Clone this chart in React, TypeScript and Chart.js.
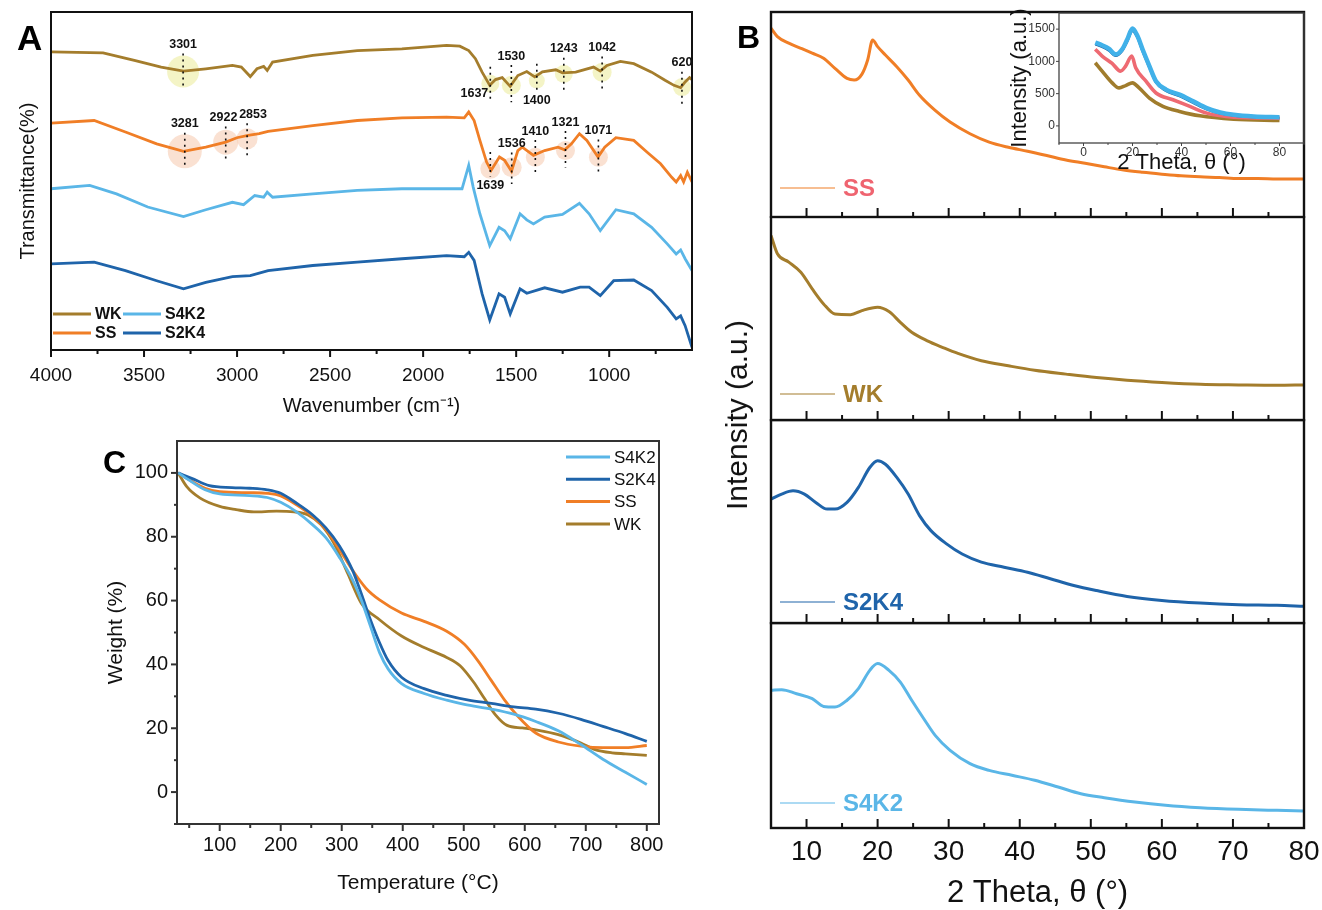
import React, { useEffect, useRef } from 'react';
import { Chart, registerables } from 'chart.js';

Chart.register(...registerables);

const FONT = "'Liberation Sans', Arial, Helvetica, sans-serif";
Chart.defaults.font.family = FONT;
Chart.defaults.color = '#111';

// ---------------- colours ----------------
const C_WK = '#A47D2C';
const C_SS = '#F07E26';
const C_S4K2 = '#5AB6E7';
const C_S2K4 = '#1F64AA';
const C_SS_LABEL = '#EF6470';
const C_SS_INSET = '#EE6A72';

// ---------------- Panel A : FTIR ----------------
const ftirTickValues = [4000, 3500, 3000, 2500, 2000, 1500, 1000];
const ftirMinorTicks = [3750, 3250, 2750, 2250, 1750, 1250, 750];

const wkWavenumber = [4000, 3720, 3552, 3408, 3288, 3168, 3025, 2977, 2929, 2893, 2857, 2838, 2809, 2593, 2354, 2114, 1874, 1803, 1755, 1719, 1683, 1642, 1611, 1575, 1532, 1491, 1443, 1400, 1359, 1287, 1251, 1180, 1084, 1048, 1012, 940, 868, 772, 700, 652, 616, 592, 568, 555];
const wkTransmittance = [88.2, 87.9, 85.7, 83.7, 82.5, 83.2, 84.2, 83.7, 80.9, 83.2, 83.9, 82.7, 85.2, 87.2, 88.6, 89.1, 90.1, 89.9, 88.6, 86.2, 82.2, 78.3, 80.0, 80.6, 78.0, 81.2, 82.4, 80.8, 82.3, 82.9, 82.0, 82.2, 83.7, 82.5, 84.2, 85.4, 84.7, 82.2, 79.8, 78.3, 77.6, 79.3, 80.6, 80.0];

const ssWavenumber = [4000, 3768, 3600, 3432, 3288, 3168, 3061, 3001, 2941, 2881, 2833, 2593, 2354, 2114, 1874, 1779, 1755, 1726, 1695, 1659, 1635, 1590, 1562, 1525, 1491, 1467, 1407, 1347, 1275, 1239, 1203, 1160, 1120, 1060, 1024, 964, 868, 796, 724, 664, 640, 616, 600, 580, 555];
const ssTransmittance = [67.1, 67.9, 64.5, 61.0, 58.8, 60.0, 61.5, 62.8, 63.5, 64.0, 64.7, 66.4, 67.9, 68.7, 68.9, 68.7, 70.4, 67.9, 62.0, 55.6, 53.1, 57.1, 56.1, 52.9, 59.0, 60.0, 57.6, 59.0, 60.0, 59.2, 61.0, 64.0, 62.0, 57.1, 60.0, 62.8, 62.0, 58.5, 55.1, 51.1, 49.7, 51.6, 49.7, 52.6, 49.7];

const s4k2Wavenumber = [4000, 3792, 3648, 3480, 3288, 3168, 3025, 2965, 2905, 2857, 2838, 2809, 2593, 2354, 2114, 1874, 1791, 1755, 1731, 1695, 1642, 1592, 1562, 1532, 1479, 1443, 1407, 1347, 1251, 1160, 1108, 1048, 964, 868, 772, 688, 640, 616, 592, 555];
const s4k2Transmittance = [47.7, 48.7, 46.2, 42.3, 39.5, 41.5, 43.7, 43.0, 45.7, 45.2, 46.7, 45.2, 46.2, 47.2, 47.7, 47.7, 47.7, 54.6, 48.2, 40.3, 30.9, 36.3, 35.3, 32.9, 40.3, 38.5, 37.3, 39.3, 40.1, 43.4, 40.3, 35.3, 41.5, 40.3, 36.3, 31.4, 28.4, 29.6, 27.0, 23.5];

const s2k4Wavenumber = [4000, 3768, 3600, 3432, 3288, 3168, 3025, 2929, 2833, 2593, 2354, 2114, 1874, 1779, 1755, 1726, 1683, 1642, 1592, 1562, 1532, 1479, 1443, 1347, 1251, 1156, 1108, 1048, 976, 868, 772, 688, 640, 616, 592, 555];
const s2k4Transmittance = [25.5, 26.0, 23.5, 20.5, 18.1, 20.0, 21.7, 22.0, 23.5, 25.0, 26.0, 27.0, 27.9, 27.6, 28.9, 26.5, 16.6, 8.9, 16.6, 15.6, 10.7, 18.1, 16.8, 18.4, 17.1, 18.6, 18.6, 16.1, 20.5, 20.7, 17.6, 12.6, 9.2, 10.1, 7.2, 0.8];

const wkPeaks = [
  { label: '3301', wn: 3290, t: 82.4, labelT: 90.3, r: 16 },
  { label: '1637', wn: 1639, t: 78.8, labelT: 76.0, r: 9, side: 'left' },
  { label: '1530', wn: 1526, t: 78.3, labelT: 86.9, r: 9.5 },
  { label: '1400', wn: 1389, t: 79.7, labelT: 73.8, r: 8 },
  { label: '1243', wn: 1244, t: 81.7, labelT: 89.1, r: 9 },
  { label: '1042', wn: 1038, t: 82.2, labelT: 89.4, r: 9.5 },
  { label: '620', wn: 609, t: 77.8, labelT: 84.9, r: 9 },
];
const ssPeaks = [
  { label: '3281', wn: 3281, t: 58.8, labelT: 66.9, r: 17 },
  { label: '2922', wn: 3061, t: 61.5, labelT: 68.7, r: 12.5, labelWn: 3073 },
  { label: '2853', wn: 2946, t: 62.5, labelT: 69.7, r: 10.5, labelWn: 2914 },
  { label: '1639', wn: 1639, t: 53.6, labelT: 48.7, r: 10 },
  { label: '1536', wn: 1524, t: 54.1, labelT: 61.0, r: 10 },
  { label: '1410', wn: 1397, t: 57.0, labelT: 64.7, r: 9.5 },
  { label: '1321', wn: 1235, t: 59.0, labelT: 67.4, r: 9.5 },
  { label: '1071', wn: 1058, t: 57.0, labelT: 64.9, r: 9.5 },
];
const ftirLegendLabels = ['WK', 'S4K2', 'SS', 'S2K4'];
const ftirLegendColors = [C_WK, C_S4K2, C_SS, C_S2K4];

// ---------------- Panel C : TGA ----------------
const tgaXTicks = [100, 200, 300, 400, 500, 600, 700, 800];
const tgaXMinor = [50, 150, 250, 350, 450, 550, 650, 750];
const tgaYTicks = [0, 20, 40, 60, 80, 100];
const tgaYMinor = [-10, 10, 30, 50, 70, 90];

const s4k2Temp = [32, 54, 76, 100, 149, 178, 200, 226, 252, 274, 296, 318, 332, 347, 362, 376, 398, 435, 472, 501, 545, 582, 618, 655, 692, 728, 765, 800];
const s4k2Weight = [100, 97.2, 94.7, 93.4, 92.9, 92.3, 90.8, 87.8, 83.8, 79.7, 73.6, 66.4, 60.2, 52.0, 43.7, 38.6, 34.0, 30.9, 28.8, 27.5, 26.0, 24.4, 22.1, 19.2, 14.9, 10.3, 6.2, 2.4];
const s2k4Temp = [32, 54, 83, 120, 149, 178, 200, 226, 252, 274, 296, 318, 332, 347, 362, 376, 398, 435, 472, 508, 545, 582, 618, 655, 692, 728, 765, 800];
const s2k4Weight = [100, 98.3, 96.0, 95.4, 95.2, 94.7, 93.6, 90.5, 86.9, 82.8, 77.2, 69.4, 62.2, 54.0, 46.8, 41.2, 36.0, 32.4, 30.3, 28.8, 27.8, 26.7, 26.0, 24.7, 22.8, 20.6, 18.3, 15.9];
const ssTemp = [32, 54, 76, 100, 149, 178, 200, 226, 252, 274, 296, 318, 340, 362, 398, 435, 472, 501, 523, 545, 567, 589, 618, 655, 692, 728, 765, 800];
const ssWeight = [100, 97.4, 95.2, 94.1, 93.8, 93.6, 92.8, 90.0, 86.4, 82.3, 76.1, 69.4, 63.8, 60.2, 56.1, 53.5, 50.4, 46.3, 41.2, 35.0, 28.8, 23.7, 18.5, 15.7, 14.4, 13.9, 13.9, 14.6];
const wkTemp = [32, 46, 68, 100, 127, 156, 193, 222, 244, 266, 288, 310, 332, 362, 398, 435, 472, 494, 516, 534, 552, 571, 596, 618, 655, 692, 714, 743, 765, 800];
const wkWeight = [100, 95.7, 92.1, 89.5, 88.5, 87.8, 88.0, 87.8, 86.9, 83.8, 77.7, 68.4, 59.2, 54.0, 48.9, 45.3, 42.2, 39.6, 34.5, 29.3, 24.2, 20.9, 20.1, 19.5, 18.0, 15.4, 13.4, 12.3, 12.0, 11.5];
const tgaLegendLabels = ['S4K2', 'S2K4', 'SS', 'WK'];

// ---------------- Panel B : XRD ----------------
const xrdTickValues = [10, 20, 30, 40, 50, 60, 70, 80];
const xrdMinorTicks = [15, 25, 35, 45, 55, 65, 75];

const xrdSsTheta = [5, 5.9, 7.5, 9.2, 10.8, 12.4, 14.0, 15.7, 16.7, 17.8, 18.6, 19.3, 20.0, 21.1, 22.7, 24.3, 25.9, 28.1, 30.2, 33.0, 35.7, 38.4, 41.1, 43.8, 46.5, 49.2, 51.9, 54.6, 57.3, 60.0, 62.7, 65.4, 68.1, 70.8, 73.5, 76.2, 80];
const xrdSsIntensity = [92.1, 88.0, 84.8, 82.3, 79.9, 77.4, 72.5, 67.6, 66.8, 69.7, 76.6, 86.4, 83.1, 79.0, 73.3, 66.8, 59.4, 52.0, 46.3, 40.6, 36.5, 34.0, 32.1, 30.0, 27.8, 26.2, 24.5, 22.9, 21.8, 20.9, 20.1, 19.6, 19.3, 18.8, 18.8, 18.5, 18.5];
const xrdWkTheta = [5, 5.9, 7.5, 9.2, 10.8, 12.4, 14.0, 16.2, 17.8, 20.0, 21.6, 23.2, 24.8, 27.0, 29.2, 31.3, 34.6, 38.4, 42.1, 46.5, 50.8, 55.1, 60.0, 65.4, 70.8, 76.2, 80];
const xrdWkIntensity = [90.9, 81.9, 77.8, 72.8, 64.6, 57.2, 52.2, 51.9, 53.9, 55.5, 53.4, 48.1, 43.2, 39.0, 35.7, 32.8, 29.2, 26.7, 24.5, 22.6, 20.9, 19.6, 18.5, 17.6, 17.3, 17.1, 17.3];
const xrdS2k4Theta = [5, 6.5, 8.1, 9.7, 11.3, 12.9, 14.0, 15.7, 17.3, 18.9, 20.0, 21.1, 22.7, 24.3, 25.9, 27.5, 29.7, 31.9, 34.6, 37.8, 41.1, 44.3, 47.6, 50.8, 55.1, 60.0, 65.4, 70.8, 76.2, 80];
const xrdS2k4Intensity = [61.0, 63.5, 65.1, 63.5, 59.4, 56.1, 56.1, 59.4, 66.8, 76.6, 79.9, 78.2, 71.7, 63.5, 52.9, 45.5, 39.0, 34.0, 30.0, 27.5, 25.0, 21.8, 18.5, 16.0, 13.1, 11.1, 9.8, 9.0, 8.7, 8.2];
const xrdS4k2Theta = [5, 6.5, 8.6, 10.8, 12.4, 14.0, 15.7, 17.3, 18.9, 20.0, 21.6, 23.2, 24.8, 26.5, 28.1, 30.2, 33.0, 35.7, 38.9, 42.1, 45.4, 48.6, 51.9, 56.2, 60.5, 65.4, 70.8, 76.2, 80];
const xrdS4k2Intensity = [67.2, 67.5, 65.5, 63.1, 59.3, 59.0, 62.3, 68.0, 76.9, 80.2, 76.9, 71.2, 62.3, 53.3, 45.2, 37.9, 31.4, 28.1, 25.7, 23.3, 20.0, 16.7, 14.8, 12.7, 11.1, 9.9, 9.1, 8.6, 8.3];

// inset (raw counts)
const insetXTicks = [0, 20, 40, 60, 80];
const insetXMinor = [-10, 10, 30, 50, 70, 90];
const insetYTicks = [0, 500, 1000, 1500];
const insetS4k2Theta = [4.8, 7.6, 10.3, 13.1, 15.8, 17.9, 20.0, 22.0, 24.1, 26.9, 29.6, 33.7, 39.2, 44.8, 50.3, 55.8, 61.3, 69.5, 80];
const insetS4k2Counts = [1292, 1250, 1198, 1109, 1188, 1344, 1510, 1396, 1188, 927, 693, 563, 484, 380, 276, 208, 172, 146, 135];
const insetS2k4Counts = [1262, 1222, 1168, 1085, 1160, 1310, 1470, 1365, 1150, 900, 670, 540, 458, 356, 256, 192, 160, 136, 124];
const insetSsTheta = [4.8, 7.6, 11.7, 15.1, 17.2, 19.7, 21.3, 25.5, 29.6, 36.5, 43.4, 50.3, 61.3, 80];
const insetSsCounts = [1188, 1083, 969, 849, 927, 1083, 901, 693, 510, 406, 302, 198, 135, 120];
const insetWkTheta = [4.8, 7.6, 11.7, 14.5, 17.2, 20.0, 22.7, 26.9, 32.4, 39.2, 47.5, 61.3, 80];
const insetWkCounts = [979, 849, 667, 589, 625, 667, 589, 432, 302, 224, 156, 104, 83];

// ---------------- helpers ----------------
const pts = (xs: number[], ys: number[]) => xs.map((x, i) => ({ x, y: ys[i] }));

const baseOptions = () => ({
  responsive: false,
  animation: false,
  devicePixelRatio: 1,
  events: [],
  plugins: { legend: { display: false }, tooltip: { enabled: false } },
});

type TickSpec = { major: number[]; minor: number[]; majorLen: number; minorLen: number; dir: number };

function decor(o: { frameWidth: number; color: string; tickWidth: number; x?: TickSpec; y?: TickSpec }) {
  return {
    id: 'decor',
    afterDraw(chart: any) {
      const { ctx, chartArea: a, scales } = chart;
      ctx.save();
      ctx.strokeStyle = o.color;
      ctx.lineWidth = o.tickWidth;
      if (o.x) {
        const s = scales.x;
        const spec = o.x;
        const draw = (vals: number[], len: number) => {
          for (const v of vals) {
            const p = s.getPixelForValue(v);
            if (p < a.left - 0.5 || p > a.right + 0.5) continue;
            ctx.beginPath();
            ctx.moveTo(p, a.bottom);
            ctx.lineTo(p, a.bottom + spec.dir * len);
            ctx.stroke();
          }
        };
        draw(spec.major, spec.majorLen);
        draw(spec.minor, spec.minorLen);
      }
      if (o.y) {
        const s = scales.y;
        const spec = o.y;
        const draw = (vals: number[], len: number) => {
          for (const v of vals) {
            const p = s.getPixelForValue(v);
            if (p < a.top - 0.5 || p > a.bottom + 0.5) continue;
            ctx.beginPath();
            ctx.moveTo(a.left, p);
            ctx.lineTo(a.left - spec.dir * len, p);
            ctx.stroke();
          }
        };
        draw(spec.major, spec.majorLen);
        draw(spec.minor, spec.minorLen);
      }
      ctx.lineWidth = o.frameWidth;
      ctx.strokeRect(a.left, a.top, a.right - a.left, a.bottom - a.top);
      ctx.restore();
    },
  };
}

function setTicks(values: number[]) {
  return (s: any) => {
    s.ticks = values.map((v) => ({ value: v }));
  };
}

function fixHeight(h: number) {
  return (s: any) => {
    s.height = h;
    s.paddingLeft = 0;
    s.paddingRight = 0;
  };
}

// ---------------- Panel A config ----------------
const ftirPeaksPlugin = {
  id: 'ftirPeaks',
  beforeDatasetsDraw(chart: any) {
    const { ctx, scales } = chart;
    const { x, y } = scales;
    ctx.save();
    const groups: [any[], string][] = [
      [wkPeaks, 'rgba(236,236,160,0.6)'],
      [ssPeaks, 'rgba(247,205,180,0.6)'],
    ];
    for (const [list, fill] of groups) {
      ctx.fillStyle = fill;
      for (const p of list) {
        ctx.beginPath();
        ctx.arc(x.getPixelForValue(p.wn), y.getPixelForValue(p.t), p.r, 0, Math.PI * 2);
        ctx.fill();
      }
    }
    ctx.restore();
  },
  afterDatasetsDraw(chart: any) {
    const { ctx, scales } = chart;
    const { x, y } = scales;
    ctx.save();
    ctx.strokeStyle = '#111';
    ctx.fillStyle = '#111';
    ctx.lineWidth = 1.6;
    ctx.setLineDash([2, 4]);
    ctx.font = `bold 12.5px ${FONT}`;
    ctx.textBaseline = 'middle';
    for (const p of [...wkPeaks, ...ssPeaks] as any[]) {
      const px = x.getPixelForValue(p.wn);
      let top = p.t + 5;
      let bottom = p.t - 5;
      if (!p.side) {
        if (p.labelT > p.t) top = p.labelT - 2.6;
        else bottom = p.labelT + 2.6;
      }
      ctx.beginPath();
      ctx.moveTo(px, y.getPixelForValue(top));
      ctx.lineTo(px, y.getPixelForValue(bottom));
      ctx.stroke();
      if (p.side === 'left') {
        ctx.textAlign = 'right';
        ctx.fillText(p.label, px - 2, y.getPixelForValue(p.labelT));
      } else {
        ctx.textAlign = 'center';
        ctx.fillText(p.label, x.getPixelForValue(p.labelWn ?? p.wn), y.getPixelForValue(p.labelT));
      }
    }
    ctx.restore();
  },
};

const ftirLegendPlugin = {
  id: 'ftirLegend',
  afterDraw(chart: any) {
    const { ctx, chartArea: a } = chart;
    ctx.save();
    ctx.font = `bold 16px ${FONT}`;
    ctx.textBaseline = 'middle';
    ctx.textAlign = 'left';
    ftirLegendLabels.forEach((label, i) => {
      const col = i % 2;
      const row = Math.floor(i / 2);
      const x0 = a.left + 2 + col * 70;
      const yy = a.bottom - 36 + row * 19;
      ctx.strokeStyle = ftirLegendColors[i];
      ctx.lineWidth = 3;
      ctx.beginPath();
      ctx.moveTo(x0, yy);
      ctx.lineTo(x0 + 38, yy);
      ctx.stroke();
      ctx.fillStyle = '#111';
      ctx.fillText(label, x0 + 42, yy + 1);
    });
    ctx.restore();
  },
};

function makeFtir(): any {
  const ds = (label: string, xs: number[], ys: number[], color: string) => ({
    label,
    data: pts(xs, ys),
    borderColor: color,
    borderWidth: 2.8,
    pointRadius: 0,
    tension: 0,
    fill: false,
  });
  return {
    type: 'line',
    data: {
      datasets: [
        ds('WK', wkWavenumber, wkTransmittance, C_WK),
        ds('SS', ssWavenumber, ssTransmittance, C_SS),
        ds('S4K2', s4k2Wavenumber, s4k2Transmittance, C_S4K2),
        ds('S2K4', s2k4Wavenumber, s2k4Transmittance, C_S2K4),
      ],
    },
    options: {
      ...baseOptions(),
      layout: { padding: { left: 0, right: 8, top: 12, bottom: 0 } },
      scales: {
        x: {
          type: 'linear',
          reverse: true,
          min: 555,
          max: 4000,
          grid: { display: false, drawTicks: false },
          border: { display: false },
          afterBuildTicks: setTicks(ftirTickValues),
          afterFit: fixHeight(70),
          ticks: { font: { size: 19 }, color: '#111', padding: 14, maxRotation: 0, autoSkip: false, callback: (v: any) => String(v) },
          title: { display: true, text: 'Wavenumber (cm⁻¹)', font: { size: 20 }, color: '#111', padding: { top: 0, bottom: 2 } },
        },
        y: {
          min: 0,
          max: 100,
          grid: { display: false, drawTicks: false },
          border: { display: false },
          ticks: { display: false },
          afterFit: (s: any) => { s.width = 51; },
          title: { display: true, text: 'Transmittance(%)', font: { size: 20 }, color: '#111', padding: { top: 16, bottom: 0 } },
        },
      },
    },
    plugins: [
      ftirPeaksPlugin,
      ftirLegendPlugin,
      decor({
        frameWidth: 2,
        color: '#111',
        tickWidth: 2,
        x: { major: ftirTickValues, minor: ftirMinorTicks, majorLen: 7, minorLen: 4, dir: 1 },
      }),
    ],
  };
}

// ---------------- Panel C config ----------------
const tgaColors = [C_S4K2, C_S2K4, C_SS, C_WK];
const tgaLegendPlugin = {
  id: 'tgaLegend',
  afterDraw(chart: any) {
    const { ctx, chartArea: a } = chart;
    ctx.save();
    ctx.font = `17px ${FONT}`;
    ctx.textBaseline = 'middle';
    ctx.textAlign = 'left';
    tgaLegendLabels.forEach((label, i) => {
      const yy = a.top + 16 + i * 22.3;
      ctx.strokeStyle = tgaColors[i];
      ctx.lineWidth = 3;
      ctx.beginPath();
      ctx.moveTo(a.right - 93, yy);
      ctx.lineTo(a.right - 49, yy);
      ctx.stroke();
      ctx.fillStyle = '#111';
      ctx.fillText(label, a.right - 45, yy + 1);
    });
    ctx.restore();
  },
};

function makeTga(): any {
  const ds = (label: string, xs: number[], ys: number[], color: string) => ({
    label,
    data: pts(xs, ys),
    borderColor: color,
    borderWidth: 2.8,
    pointRadius: 0,
    cubicInterpolationMode: 'monotone',
    fill: false,
  });
  return {
    type: 'line',
    data: {
      datasets: [
        ds('S4K2', s4k2Temp, s4k2Weight, C_S4K2),
        ds('S2K4', s2k4Temp, s2k4Weight, C_S2K4),
        ds('SS', ssTemp, ssWeight, C_SS),
        ds('WK', wkTemp, wkWeight, C_WK),
      ],
    },
    options: {
      ...baseOptions(),
      layout: { padding: { left: 0, right: 41, top: 16, bottom: 0 } },
      scales: {
        x: {
          type: 'linear',
          min: 30,
          max: 820,
          grid: { display: false, drawTicks: false },
          border: { display: false },
          afterBuildTicks: setTicks(tgaXTicks),
          afterFit: fixHeight(86),
          ticks: { font: { size: 20 }, color: '#111', padding: 9, maxRotation: 0, autoSkip: false, callback: (v: any) => String(v) },
          title: { display: true, text: 'Temperature (°C)', font: { size: 21 }, color: '#111', padding: { top: 0, bottom: 14 } },
        },
        y: {
          min: -10,
          max: 110,
          grid: { display: false, drawTicks: false },
          border: { display: false },
          afterBuildTicks: setTicks(tgaYTicks),
          afterFit: (s: any) => { s.width = 177; },
          ticks: { font: { size: 20 }, color: '#111', padding: 9, autoSkip: false, callback: (v: any) => String(v) },
          title: { display: true, text: 'Weight (%)', font: { size: 21 }, color: '#111', padding: { top: 104, bottom: 0 } },
        },
      },
    },
    plugins: [
      tgaLegendPlugin,
      decor({
        frameWidth: 2,
        color: '#333',
        tickWidth: 2,
        x: { major: tgaXTicks, minor: tgaXMinor, majorLen: 7, minorLen: 4, dir: 1 },
        y: { major: tgaYTicks, minor: tgaYMinor, majorLen: 6, minorLen: 3, dir: 1 },
      }),
    ],
  };
}

// ---------------- Panel B config ----------------
const xrdPanels = [
  { name: 'SS', theta: xrdSsTheta, values: xrdSsIntensity, color: C_SS, labelColor: C_SS_LABEL, top: 0, height: 218, padTop: 12, padBottom: 1, legendUp: 29 },
  { name: 'WK', theta: xrdWkTheta, values: xrdWkIntensity, color: C_WK, labelColor: C_WK, top: 216, height: 206, padTop: 1, padBottom: 2, legendUp: 26 },
  { name: 'S2K4', theta: xrdS2k4Theta, values: xrdS2k4Intensity, color: C_S2K4, labelColor: C_S2K4, top: 419, height: 206, padTop: 1, padBottom: 2, legendUp: 21 },
  { name: 'S4K2', theta: xrdS4k2Theta, values: xrdS4k2Intensity, color: C_S4K2, labelColor: C_S4K2, top: 622, height: 290, padTop: 1, padBottom: 0, legendUp: 25 },
];

function xrdLegend(panel: any) {
  return {
    id: 'xrdLegend',
    afterDraw(chart: any) {
      const { ctx, chartArea: a } = chart;
      const yy = a.bottom - panel.legendUp;
      ctx.save();
      ctx.strokeStyle = panel.color;
      ctx.lineWidth = 1.2;
      ctx.beginPath();
      ctx.moveTo(a.left + 9, yy);
      ctx.lineTo(a.left + 64, yy);
      ctx.stroke();
      ctx.font = `bold 24px ${FONT}`;
      ctx.fillStyle = panel.labelColor;
      ctx.textAlign = 'left';
      ctx.textBaseline = 'middle';
      ctx.fillText(panel.name, a.left + 72, yy + 1);
      ctx.restore();
    },
  };
}

function makeXrd(panel: any, isBottom: boolean): any {
  return {
    type: 'line',
    data: {
      datasets: [
        {
          label: panel.name,
          data: pts(panel.theta, panel.values),
          borderColor: panel.color,
          borderWidth: 3,
          pointRadius: 0,
          cubicInterpolationMode: 'monotone',
          fill: false,
        },
      ],
    },
    options: {
      ...baseOptions(),
      layout: { padding: { left: 51, right: 18, top: panel.padTop, bottom: panel.padBottom } },
      scales: {
        x: {
          type: 'linear',
          min: 5,
          max: 80,
          display: isBottom,
          grid: { display: false, drawTicks: false },
          border: { display: false },
          afterBuildTicks: setTicks(xrdTickValues),
          afterFit: fixHeight(isBottom ? 84 : 0),
          ticks: { font: { size: 28 }, color: '#111', padding: 7, maxRotation: 0, autoSkip: false, callback: (v: any) => String(v) },
          title: { display: true, text: '2 Theta, θ (°)', font: { size: 31 }, color: '#111', padding: { top: 0, bottom: 0 } },
        },
        y: { display: false, min: 0, max: 100 },
      },
    },
    plugins: [
      xrdLegend(panel),
      decor({
        frameWidth: 2.4,
        color: '#111',
        tickWidth: 2,
        x: { major: xrdTickValues, minor: xrdMinorTicks, majorLen: 9, minorLen: 5, dir: -1 },
      }),
    ],
  };
}

function makeInset(): any {
  const ds = (label: string, xs: number[], ys: number[], color: string, w: number) => ({
    label,
    data: pts(xs, ys),
    borderColor: color,
    borderWidth: w,
    pointRadius: 0,
    cubicInterpolationMode: 'monotone',
    fill: false,
  });
  return {
    type: 'line',
    data: {
      datasets: [
        ds('S4K2', insetS4k2Theta, insetS4k2Counts, '#41B1E9', 4.5),
        ds('S2K4', insetS4k2Theta, insetS2k4Counts, '#1F5E9C', 2.2),
        ds('SS', insetSsTheta, insetSsCounts, C_SS_INSET, 3.6),
        ds('WK', insetWkTheta, insetWkCounts, '#A07C2C', 3.6),
      ],
    },
    options: {
      ...baseOptions(),
      layout: { padding: { left: 0, right: 18, top: 13, bottom: 0 } },
      scales: {
        x: {
          type: 'linear',
          min: -10,
          max: 90,
          grid: { display: false, drawTicks: false },
          border: { display: false },
          afterBuildTicks: setTicks(insetXTicks),
          afterFit: fixHeight(37),
          ticks: { font: { size: 12 }, color: '#333', padding: 2.5, maxRotation: 0, autoSkip: false, callback: (v: any) => String(v) },
          title: { display: true, text: '2 Theta, θ (°)', font: { size: 22 }, color: '#111', padding: { top: 0, bottom: 3.5 } },
        },
        y: {
          min: -265,
          max: 1750,
          grid: { display: false, drawTicks: false },
          border: { display: false },
          afterBuildTicks: setTicks(insetYTicks),
          afterFit: (s: any) => { s.width = 59; },
          ticks: { font: { size: 12 }, color: '#333', padding: 4, autoSkip: false, callback: (v: any) => String(v) },
          title: { display: true, text: 'Intensity (a.u.)', font: { size: 22 }, color: '#111', padding: { top: 7, bottom: 0 } },
        },
      },
    },
    plugins: [
      decor({
        frameWidth: 1.3,
        color: '#444',
        tickWidth: 1,
        x: { major: insetXTicks, minor: insetXMinor, majorLen: 3, minorLen: 2, dir: 1 },
        y: { major: insetYTicks, minor: [], majorLen: 3, minorLen: 0, dir: 1 },
      }),
    ],
  };
}

// ---------------- components ----------------
function ChartCanvas({ left, top, w, h, make }: { left: number; top: number; w: number; h: number; make: () => any }) {
  const ref = useRef<HTMLCanvasElement>(null);
  useEffect(() => {
    const chart = new Chart(ref.current as HTMLCanvasElement, make());
    return () => chart.destroy();
  }, []);
  return <canvas ref={ref} width={w} height={h} style={{ position: 'absolute', left, top, width: w, height: h }} />;
}

const letterStyle = (left: number, top: number, size: number): React.CSSProperties => ({
  position: 'absolute',
  left,
  top,
  fontFamily: FONT,
  fontWeight: 'bold',
  fontSize: size,
  lineHeight: 1,
  color: '#000',
});

export default function App() {
  return (
    <div style={{ position: 'fixed', left: 0, top: 0, width: 1322, height: 910, background: '#fff', overflow: 'hidden' }}>
      <ChartCanvas left={0} top={0} w={700} h={420} make={makeFtir} />
      <ChartCanvas left={0} top={420} w={700} h={490} make={makeTga} />
      {xrdPanels.map((p, i) => (
        <ChartCanvas key={p.name} left={720} top={p.top} w={602} h={p.height} make={() => makeXrd(p, i === xrdPanels.length - 1)} />
      ))}
      <ChartCanvas left={1000} top={0} w={322} h={180} make={makeInset} />
      <div style={letterStyle(17, 20.4, 35)}>A</div>
      <div style={letterStyle(737, 20.8, 32)}>B</div>
      <div style={letterStyle(103, 445.8, 32)}>C</div>
      <div
        style={{
          position: 'absolute',
          left: 737,
          top: 415,
          transform: 'translate(-50%, -50%) rotate(-90deg)',
          fontFamily: FONT,
          fontSize: 30,
          lineHeight: 1,
          whiteSpace: 'nowrap',
          color: '#111',
        }}
      >
        Intensity (a.u.)
      </div>
    </div>
  );
}
